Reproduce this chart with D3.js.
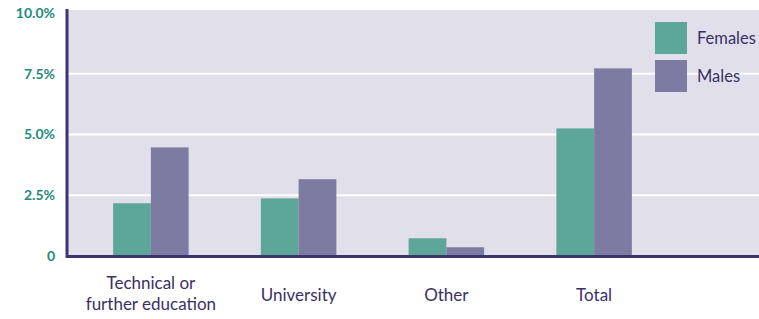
<!DOCTYPE html>
<meta charset="utf-8">
<style>
body { margin: 0; background: #fff; }
text { font-family: "Lato", "Open Sans", sans-serif; }
.ytick { fill: #1f8a7c; font-size: 14px; font-weight: bold; }
.xlab { fill: #3a3068; font-size: 17px; }
.leg { fill: #3a3068; font-size: 16.5px; }
</style>
<svg width="759" height="319"></svg>
<script src="https://d3js.org/d3.v7.min.js"></script>
<script>

var categories = ["Technical or|further education", "University", "Other", "Total"];
var series = ["Females", "Males"];
var females = [2.17, 2.37, 0.73, 5.25];
var males = [4.47, 3.16, 0.36, 7.72];
var yTicks = [0, 2.5, 5, 7.5, 10];
var yTickLabels = ["0", "2.5%", "5.0%", "7.5%", "10.0%"];

var colors = { Females: "#5ca69a", Males: "#7e7ba3" };

var svg = d3.select("svg"),
    width = +svg.attr("width");

var plotLeft = 67, plotTop = 10, plotBottom = 256;

var x = d3.scaleBand()
    .domain(categories)
    .range([77, 668])
    .padding(0);

var x1 = d3.scaleBand()
    .domain(series)
    .range([0, 75.5]);

var y = d3.scaleLinear()
    .domain([0, 10])
    .range([plotBottom, 13]);

// plot background
svg.append("rect")
    .attr("x", plotLeft)
    .attr("y", plotTop)
    .attr("width", width - plotLeft)
    .attr("height", plotBottom - plotTop)
    .attr("fill", "#e0dfea");

// gridlines
svg.append("g")
  .selectAll("line")
  .data(yTicks.filter(function(d) { return d > 0 && d < 10; }))
  .enter().append("line")
    .attr("x1", plotLeft)
    .attr("x2", width)
    .attr("y1", function(d) { return y(d); })
    .attr("y2", function(d) { return y(d); })
    .attr("stroke", "#fff")
    .attr("stroke-width", 2);

// bars
var rows = categories.map(function(c, i) {
  return { cat: c, values: [ { s: "Females", v: females[i] }, { s: "Males", v: males[i] } ] };
});

svg.append("g")
  .selectAll("g")
  .data(rows)
  .enter().append("g")
    .attr("transform", function(d) { return "translate(" + (x(d.cat) + x.bandwidth() / 2 - 37.75) + ",0)"; })
  .selectAll("rect")
  .data(function(d) { return d.values; })
  .enter().append("rect")
    .attr("x", function(d) { return x1(d.s); })
    .attr("width", x1.bandwidth())
    .attr("y", function(d) { return y(d.v); })
    .attr("height", function(d) { return y(0) - y(d.v); })
    .attr("fill", function(d) { return colors[d.s]; });

// axes lines
svg.append("line")
    .attr("x1", plotLeft).attr("x2", width)
    .attr("y1", plotBottom + 0.5).attr("y2", plotBottom + 0.5)
    .attr("stroke", "#3b3470").attr("stroke-width", 3);
svg.append("line")
    .attr("x1", plotLeft).attr("x2", plotLeft)
    .attr("y1", plotTop - 1).attr("y2", plotBottom + 2)
    .attr("stroke", "#3b3470").attr("stroke-width", 3);

// y labels
svg.append("g")
  .selectAll("text")
  .data(yTicks)
  .enter().append("text")
    .attr("class", "ytick")
    .attr("x", 55)
    .attr("y", function(d) { return y(d); })
    .attr("dy", "0.35em")
    .attr("text-anchor", "end")
    .text(function(d, i) { return yTickLabels[i]; });

// x labels
svg.append("g")
  .selectAll("text")
  .data(categories)
  .enter().append("text")
    .attr("class", "xlab")
    .attr("text-anchor", "middle")
    .attr("x", function(d) { return x(d) + x.bandwidth() / 2; })
    .each(function(d) {
      var lines = d.split("|");
      var t = d3.select(this);
      var y0 = lines.length > 1 ? 289 : 301;
      lines.forEach(function(l, i) {
        t.append("tspan")
          .attr("x", t.attr("x"))
          .attr("y", y0 + i * 21)
          .text(l);
      });
    });

// legend
var legend = svg.append("g").attr("transform", "translate(655,22)");
series.forEach(function(s, i) {
  legend.append("rect")
      .attr("x", 0)
      .attr("y", i * 38)
      .attr("width", 32)
      .attr("height", 32)
      .attr("fill", colors[s]);
  legend.append("text")
      .attr("class", "leg")
      .attr("x", 42)
      .attr("y", i * 38 + 16)
      .attr("dy", "0.35em")
      .text(s);
});

</script>
